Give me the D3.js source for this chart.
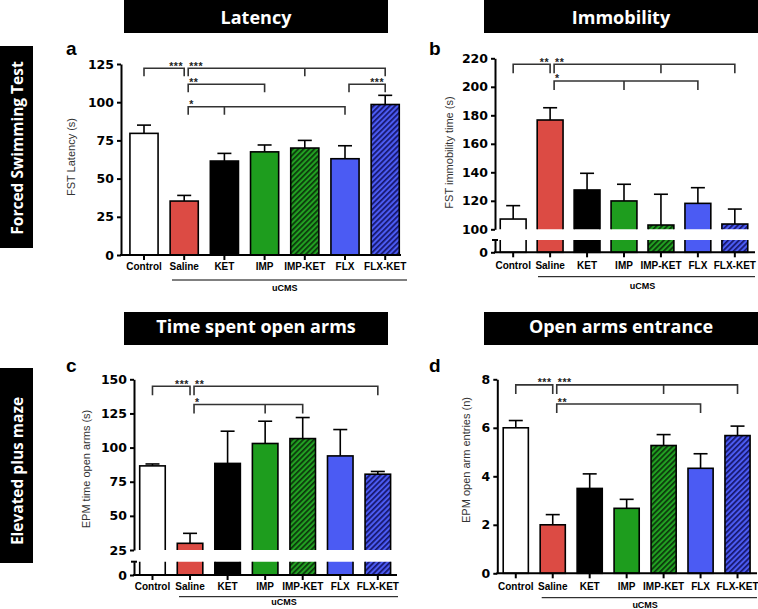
<!DOCTYPE html>
<html><head><meta charset="utf-8">
<script src="https://cdn.jsdelivr.net/npm/d3@7"></script>
<style>body{margin:0;background:#fff}svg{display:block}</style>
</head><body>
<script>
// ---------------- data ----------------
const categories = ["Control","Saline","KET","IMP","IMP-KET","FLX","FLX-KET"];
const groupLabel = "uCMS";
const groupCategories = ["Saline","KET","IMP","IMP-KET","FLX","FLX-KET"];

const latencyMean = [79.6, 35.3, 61.5, 67.5, 70.0, 63.0, 98.5];
const latencySem  = [5.4, 3.7, 5.0, 4.5, 5.0, 8.5, 6.0];
const immobilityMean = [107.2, 176.7, 127.6, 119.9, 103.0, 118.2, 103.7];
const immobilitySem  = [9.4, 8.6, 11.7, 11.7, 21.6, 11.0, 10.5];
const openTimeMean = [86.6, 29.9, 88.4, 103.0, 106.6, 93.9, 80.5];
const openTimeSem  = [1.4, 7.3, 23.6, 16.3, 15.4, 19.3, 2.0];
const openEntriesMean = [6.0, 2.0, 3.5, 2.68, 5.27, 4.33, 5.68];
const openEntriesSem  = [0.3, 0.42, 0.6, 0.37, 0.45, 0.6, 0.39];

const latencyTicks = [0, 25, 50, 75, 100, 125];
const immobilityTicks = [0, 100, 120, 140, 160, 180, 200, 220];
const openTimeTicks = [0, 25, 50, 75, 100, 125, 150];
const openEntriesTicks = [0, 2, 4, 6, 8];

const latencyBrackets = [
  {from:"Control", to:"Saline", mids:[], level:122.2, stars:"***", side:"end"},
  {from:"Saline", to:"FLX-KET", mids:["IMP-KET"], level:122.2, stars:"***", side:"start"},
  {from:"Saline", to:"IMP", mids:[], level:111.7, stars:"**", side:"start"},
  {from:"Saline", to:"FLX", mids:["KET"], level:97.0, stars:"*", side:"start"},
  {from:"FLX", to:"FLX-KET", mids:[], level:111.7, stars:"***", side:"end"}
];
const immobilityBrackets = [
  {from:"Control", to:"Saline", mids:[], level:215.8, stars:"**", side:"end"},
  {from:"Saline", to:"FLX-KET", mids:["IMP-KET"], level:215.8, stars:"**", side:"start"},
  {from:"Saline", to:"FLX", mids:["IMP"], level:204.1, stars:"*", side:"start"}
];
const openTimeBrackets = [
  {from:"Control", to:"Saline", mids:[], level:144.9, stars:"***", side:"end"},
  {from:"Saline", to:"FLX-KET", mids:[], level:144.9, stars:"**", side:"start"},
  {from:"Saline", to:"IMP-KET", mids:["IMP"], level:131.5, stars:"*", side:"start"}
];
const openEntriesBrackets = [
  {from:"Control", to:"Saline", mids:[], level:7.77, stars:"***", side:"end"},
  {from:"Saline", to:"FLX-KET", mids:["IMP-KET"], level:7.77, stars:"***", side:"start"},
  {from:"Saline", to:"FLX", mids:[], level:6.98, stars:"**", side:"start"}
];

const panelTitles = ["Latency", "Immobility", "Time spent open arms", "Open arms entrance"];
const rowTitles = ["Forced Swimming Test", "Elevated plus maze"];
const yLabels = ["FST Latency (s)", "FST immobility time (s)", "EPM time open arms (s)", "EPM open arm entries (n)"];
const panelLetters = ["a", "b", "c", "d"];

// ---------------- drawing ----------------
const W = 758, H = 609;
const svg = d3.select("body").append("svg").attr("width", W).attr("height", H);
const defs = svg.append("defs");

function hatch(id, base, stripe) {
  const p = defs.append("pattern").attr("id", id).attr("patternUnits", "userSpaceOnUse")
    .attr("width", 3.8).attr("height", 3.8).attr("patternTransform", "rotate(45)");
  p.append("rect").attr("width", 3.8).attr("height", 3.8).attr("fill", base);
  p.append("rect").attr("width", 1.7).attr("height", 3.8).attr("fill", stripe);
}
hatch("hatchGreen", "#22a022", "#0b360b");
hatch("hatchBlue", "#4b5bf2", "#15156a");
const barFills = ["#ffffff", "#dc4b44", "#000000", "#1e9d1e", "url(#hatchGreen)", "#4b5bf3", "url(#hatchBlue)"];

const FONT = "'Liberation Sans', Arial, sans-serif";
const TICKFONT = "'DejaVu Sans', sans-serif";
const TITLEFONT = "'Open Sans', 'DejaVu Sans', sans-serif";

// title boxes
const titleBoxes = [
  {x:124, y:-2, w:264, h:35, base:24},
  {x:484, y:-2, w:274, h:35, base:24},
  {x:124, y:312, w:264, h:33, base:333},
  {x:484, y:312, w:274, h:33, base:333}
];
titleBoxes.forEach((b, i) => {
  svg.append("rect").attr("x", b.x).attr("y", b.y).attr("width", b.w).attr("height", b.h).attr("fill", "#000");
  svg.append("text").attr("x", b.x + b.w / 2).attr("y", b.base).attr("text-anchor", "middle")
    .attr("font-family", TITLEFONT).attr("font-weight", 700).attr("font-size", 18).attr("fill", "#fff")
    .text(panelTitles[i]);
});
const rowBoxes = [{y:46, h:202, cy:148}, {y:368, h:195, cy:471}];
rowBoxes.forEach((b, i) => {
  svg.append("rect").attr("x", -2).attr("y", b.y).attr("width", 35).attr("height", b.h).attr("fill", "#000");
  svg.append("text").attr("transform", `translate(23,${b.cy}) rotate(-90)`).attr("text-anchor", "middle")
    .attr("font-family", TITLEFONT).attr("font-weight", 700).attr("font-size", 15.5).attr("fill", "#fff")
    .text(rowTitles[i]);
});

const panels = [
  {id:"a", mean:latencyMean, sem:latencySem, ticks:latencyTicks, brackets:latencyBrackets,
   axisX:121, xr:[123.9, 405.3], pi:0.30, xEnd:401, y0:255, yTop:64, max:125, brk:null,
   labPad:2.4, ylab:[75, 157], letter:[66, 55], ucms:[172, 407, 280, 290.5], tick:8},
  {id:"b", mean:immobilityMean, sem:immobilitySem, ticks:immobilityTicks, brackets:immobilityBrackets,
   axisX:495, xr:[494.7, 753.3], pi:0.30, xEnd:755, y0:252.3, yTop:58.3, max:220,
   brk:{low:100, upperBottom:229.3, lowerTop:240, lowerMax:10},
   labPad:4.5, ylab:[453, 152.5], letter:[429, 55], ucms:[538, 755, 276.7, 289], tick:9},
  {id:"c", mean:openTimeMean, sem:openTimeSem, ticks:openTimeTicks, brackets:openTimeBrackets,
   axisX:134, xr:[133.7, 396.6], pi:0.32, xEnd:397, y0:575, yTop:379.3, max:150,
   brk:{low:25, upperBottom:550, lowerTop:561.7, lowerMax:10},
   labPad:2.8, ylab:[90, 469], letter:[66, 371.5], ucms:[179, 398, 596.7, 605], tick:9},
  {id:"d", mean:openEntriesMean, sem:openEntriesSem, ticks:openEntriesTicks, brackets:openEntriesBrackets,
   axisX:497.3, xr:[497.3, 756], pi:0.32, xEnd:757, y0:573.3, yTop:379.3, max:8, brk:null,
   labPad:5, ylab:[470, 460], letter:[429, 371.5], ucms:[541.7, 757, 597.7, 607.5], tick:9}
];

function drawPanel(p, pi) {
  const g = svg.append("g");
  const x = d3.scaleBand().domain(categories).range(p.xr).paddingInner(p.pi).paddingOuter(p.pi / 2);
  const bw = x.bandwidth();
  const cx = c => x(c) + bw / 2;

  let segs;
  if (!p.brk) {
    const y = d3.scaleLinear().domain([0, p.max]).range([p.y0, p.yTop]);
    segs = [{y, lo:0, clipTop:0, clipBot:p.y0 + 2, ticks:p.ticks, main:true}];
  } else {
    const yU = d3.scaleLinear().domain([p.brk.low, p.max]).range([p.brk.upperBottom, p.yTop]);
    const yL = d3.scaleLinear().domain([0, p.brk.lowerMax]).range([p.y0, p.brk.lowerTop]);
    segs = [
      {y:yU, lo:p.brk.low, clipTop:0, clipBot:p.brk.upperBottom, ticks:p.ticks.filter(t => t >= p.brk.low), main:true},
      {y:yL, lo:0, clipTop:p.brk.lowerTop, clipBot:p.y0 + 2, ticks:[0], cap:true}
    ];
  }
  const mainY = segs[0].y;

  segs.forEach((s, si) => {
    const clipId = `clip-${p.id}-${si}`;
    defs.append("clipPath").attr("id", clipId).append("rect")
      .attr("x", 0).attr("y", s.clipTop).attr("width", W).attr("height", s.clipBot - s.clipTop);
    const dmax = s.y.domain()[1];
    const topOf = v => v <= dmax ? s.y(v) : s.clipTop - 5;
    const botOf = () => s.lo === 0 ? s.y(0) : s.clipBot + 5;
    g.append("g").attr("clip-path", `url(#${clipId})`)
      .selectAll("rect").data(categories).join("rect")
      .attr("x", c => x(c)).attr("width", bw)
      .attr("y", (c, i) => topOf(p.mean[i]))
      .attr("height", (c, i) => botOf() - topOf(p.mean[i]))
      .attr("fill", (c, i) => barFills[i])
      .attr("stroke", "#000").attr("stroke-width", 1.6);

    const ax = g.append("g").attr("transform", `translate(${p.axisX},0)`)
      .call(d3.axisLeft(s.y).tickValues(s.ticks).tickSize(4).tickPadding(3).tickSizeOuter(0));
    ax.select(".domain").attr("stroke", "#000").attr("stroke-width", 2);
    ax.selectAll(".tick line").attr("stroke", "#000").attr("stroke-width", 2);
    ax.selectAll(".tick text").attr("font-family", TICKFONT).attr("font-weight", 700)
      .attr("font-size", 12.5).attr("fill", "#000");
    if (s.cap) {
      g.append("line").attr("x1", p.axisX - 3).attr("x2", p.axisX + 3)
        .attr("y1", s.clipTop).attr("y2", s.clipTop).attr("stroke", "#000").attr("stroke-width", 2);
    }
  });

  // error bars (upper SEM only)
  const eb = g.append("g").attr("stroke", "#000").attr("stroke-width", 1.6).attr("fill", "none");
  categories.forEach((c, i) => {
    const yt = mainY(p.mean[i]), ye = mainY(p.mean[i] + p.sem[i]);
    eb.append("line").attr("x1", cx(c)).attr("x2", cx(c)).attr("y1", yt).attr("y2", ye);
    eb.append("line").attr("x1", cx(c) - 7).attr("x2", cx(c) + 7).attr("y1", ye).attr("y2", ye);
  });

  // x axis
  g.append("line").attr("x1", p.axisX - 1).attr("x2", p.xEnd).attr("y1", p.y0).attr("y2", p.y0)
    .attr("stroke", "#000").attr("stroke-width", 2);
  const xa = g.append("g").attr("transform", `translate(0,${p.y0})`)
    .call(d3.axisBottom(x).tickSize(5).tickPadding(p.labPad).tickSizeOuter(0));
  xa.select(".domain").remove();
  xa.selectAll(".tick line").attr("stroke", "#000").attr("stroke-width", 2);
  xa.selectAll(".tick text").attr("font-family", FONT).attr("font-weight", 700)
    .attr("font-size", 10).attr("fill", "#000");

  // uCMS group line
  const [ux1, ux2, uy, ubase] = p.ucms;
  g.append("line").attr("x1", ux1).attr("x2", ux2).attr("y1", uy).attr("y2", uy)
    .attr("stroke", "#000").attr("stroke-width", 1);
  const gc = groupCategories.map(cx);
  g.append("text").attr("x", (d3.min(gc) + d3.max(gc)) / 2).attr("y", ubase).attr("text-anchor", "middle")
    .attr("font-family", FONT).attr("font-weight", 700).attr("font-size", 9).attr("fill", "#000")
    .text(groupLabel);

  // y label
  g.append("text").attr("transform", `translate(${p.ylab[0]},${p.ylab[1]}) rotate(-90)`)
    .attr("text-anchor", "middle").attr("font-family", FONT).attr("font-size", 11).attr("fill", "#333")
    .text(yLabels[pi]);

  // panel letter
  g.append("text").attr("x", p.letter[0]).attr("y", p.letter[1])
    .attr("font-family", FONT).attr("font-weight", 700).attr("font-size", 19).attr("fill", "#000")
    .text(panelLetters[pi]);

  // significance brackets
  const bg = g.append("g");
  p.brackets.forEach(b => {
    const sx = cx(b.from) + (b.from === "Control" ? 0 : 4);
    const ex = cx(b.to);
    const ly = mainY(b.level);
    let d = `M${sx},${ly + p.tick}V${ly}H${ex}V${ly + p.tick}`;
    b.mids.forEach(m => { d += `M${cx(m)},${ly}V${ly + p.tick}`; });
    bg.append("path").attr("d", d).attr("fill", "none").attr("stroke", "#333").attr("stroke-width", 1.6);
    bg.append("text").attr("x", b.side === "end" ? ex - 1 : sx + 1).attr("y", ly + 1.5)
      .attr("text-anchor", b.side === "end" ? "end" : "start")
      .attr("font-family", FONT).attr("font-weight", 700).attr("font-size", 10.5)
      .attr("letter-spacing", 0.6).attr("fill", "#222").text(b.stars);
  });
}
panels.forEach(drawPanel);
</script>
</body></html>
